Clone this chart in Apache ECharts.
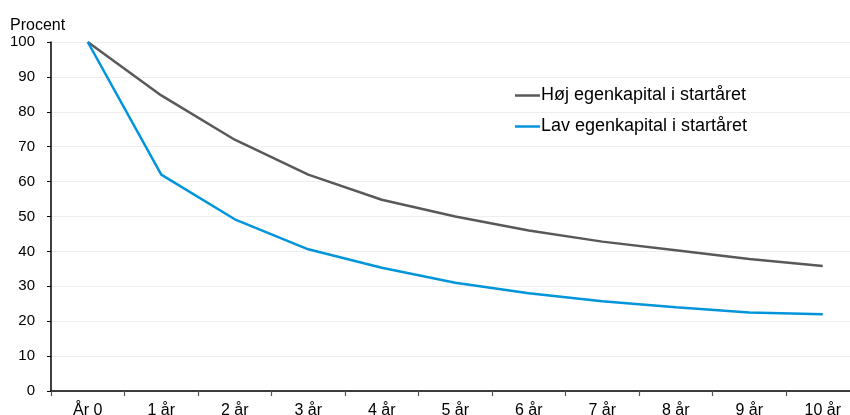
<!DOCTYPE html>
<html>
<head>
<meta charset="utf-8">
<script src="https://cdn.jsdelivr.net/npm/echarts@6/dist/echarts.min.js"></script>
<style>
html,body{margin:0;padding:0;background:#fff;}
#chart{width:850px;height:415px;}
</style>
</head>
<body>
<div id="chart"></div>
<script>
var categories = ['År 0', '1 år', '2 år', '3 år', '4 år', '5 år', '6 år', '7 år', '8 år', '9 år', '10 år'];
var hojValues = [100, 84.7, 72, 62, 54.8, 50, 46, 42.8, 40.3, 37.8, 35.8];
var lavValues = [100, 62, 49.2, 40.6, 35.3, 31, 28, 25.7, 24, 22.5, 22];
var yTicks = [0, 10, 20, 30, 40, 50, 60, 70, 80, 90, 100];
var seriesNames = ['Høj egenkapital i startåret', 'Lav egenkapital i startåret'];

var chart = echarts.init(document.getElementById('chart'), null, {renderer: 'canvas'});
var font = 'Liberation Sans, Arial, sans-serif';
chart.setOption({
  animation: false,
  backgroundColor: '#ffffff',
  textStyle: {fontFamily: font},
  title: {
    text: 'Procent',
    left: 10, top: 18, padding: 0,
    textStyle: {fontFamily: font, fontSize: 16, fontWeight: 'normal', color: '#000'}
  },
  grid: {left: 51, top: 42, right: -9.5, bottom: 24, containLabel: false, outerBoundsMode: 'none'},
  legend: {
    orient: 'vertical',
    left: 515, top: 86.5,
    padding: 0,
    itemWidth: 25, itemHeight: 2.5,
    itemGap: 13,
    icon: 'rect',
    data: seriesNames,
    textStyle: {fontFamily: font, fontSize: 18, lineHeight: 18, color: '#000', padding: [0, 0, 0, -4]}
  },
  xAxis: {
    type: 'category',
    data: categories,
    boundaryGap: true,
    axisLine: {lineStyle: {color: '#000', width: 1.5}},
    axisTick: {show: true, alignWithLabel: false, length: 5, lineStyle: {color: '#555', width: 1.2}},
    axisLabel: {fontFamily: font, fontSize: 16, color: '#000', margin: 12, interval: 0},
    splitLine: {show: false}
  },
  yAxis: {
    type: 'value',
    min: yTicks[0], max: yTicks[yTicks.length - 1], interval: 10,
    axisLine: {show: true, lineStyle: {color: '#000', width: 1.5}},
    axisTick: {show: true, length: 4, lineStyle: {color: '#000', width: 1}},
    axisLabel: {fontFamily: font, fontSize: 15, color: '#000', margin: 16},
    splitLine: {show: true, lineStyle: {color: '#eeeeee', width: 1}}
  },
  series: [
    {
      name: seriesNames[0], type: 'line', data: hojValues,
      symbol: 'none', smooth: false,
      lineStyle: {color: '#595959', width: 2.5},
      itemStyle: {color: '#595959'}
    },
    {
      name: seriesNames[1], type: 'line', data: lavValues,
      symbol: 'none', smooth: false,
      lineStyle: {color: '#0095da', width: 2.5},
      itemStyle: {color: '#0095da'}
    }
  ]
});
</script>
</body>
</html>
